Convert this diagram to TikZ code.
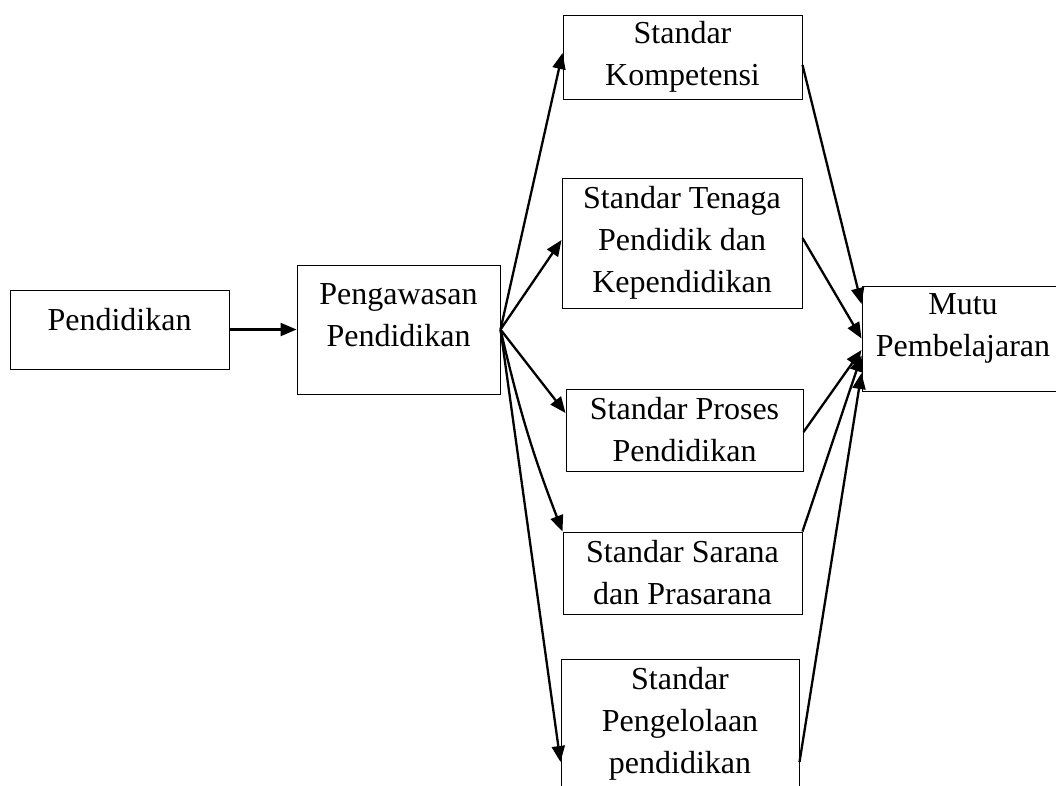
\documentclass[tikz,border=0pt]{standalone}
\usepackage{fontspec}
\setmainfont{Liberation Serif}
\usetikzlibrary{arrows.meta,positioning}

\tikzset{
  box/.style={draw, line width=1pt, inner sep=0pt, align=center,
    font=\fontsize{32}{42}\selectfont},
  txt/.style={inner sep=0pt, align=center, font=\fontsize{32}{42}\selectfont},
  arr/.style={line width=2.3pt, -{Triangle[length=16pt,width=13pt]}}
}

\begin{document}
\begin{tikzpicture}[x=1pt, y=-1pt]
  % Ukuran gambar
  \useasboundingbox (0,0) rectangle (1056,785);
  \clip (0,0) rectangle (1056,785);

  % Kotak kiri
  \node[box, minimum width=219pt, minimum height=79pt,
        label={[txt, yshift=10pt]center:Pendidikan}] (pend) at (119.5,329.5) {};
  \node[box, minimum width=203pt, minimum height=129pt,
        label={[txt, yshift=14pt]center:{Pengawasan\\Pendidikan}}] (awas) at (398.5,329.5) {};

  % Kotak standar
  \node[box, minimum width=239pt, minimum height=84pt] (komp) at (682.5,57) {Standar\\Kompetensi};
  \node[box, minimum width=240pt, minimum height=130pt] (tenaga) at (682,243) {Standar Tenaga\\Pendidik dan\\Kependidikan};
  \node[box, minimum width=237pt, minimum height=82pt] (proses) at (684.5,430) {Standar Proses\\Pendidikan};
  \node[box, minimum width=239pt, minimum height=82pt] (sarana) at (682.5,573) {Standar Sarana\\dan Prasarana};
  \node[box, minimum width=238pt, minimum height=130pt] (kelola) at (680,724) {Standar\\Pengelolaan\\pendidikan};

  % Kotak kanan
  \node[box, minimum width=202pt, minimum height=105pt,
        label={[txt, yshift=10.5pt]center:{Mutu\\Pembelajaran}}] (mutu) at (963,338.5) {};

  % Panah
  \draw[arr] (pend) -- (awas);
  \draw[arr] (awas.east) -- ([yshift=4pt]komp.west);
  \draw[arr] (awas.east) -- ([yshift=3pt]tenaga.west);
  \draw[arr] (awas.east) -- ([yshift=17pt]proses.west);
  \draw[arr] (awas.east) to[bend right=4] (sarana.north west);
  \draw[arr] (awas.east) -- ([yshift=-38pt]kelola.west);
  \draw[arr] ([yshift=-8pt]komp.east) -- ([yshift=34.5pt]mutu.west);
  \draw[arr] ([yshift=5pt]tenaga.east) -- (mutu.west);
  \draw[arr] ([yshift=-2pt]proses.east) -- ([yshift=-11.5pt]mutu.west);
  \draw[arr] (sarana.north east) -- ([yshift=-17pt]mutu.west);
  \draw[arr] ([yshift=-38pt]kelola.east) -- ([yshift=-34.5pt]mutu.west);
\end{tikzpicture}
\end{document}
